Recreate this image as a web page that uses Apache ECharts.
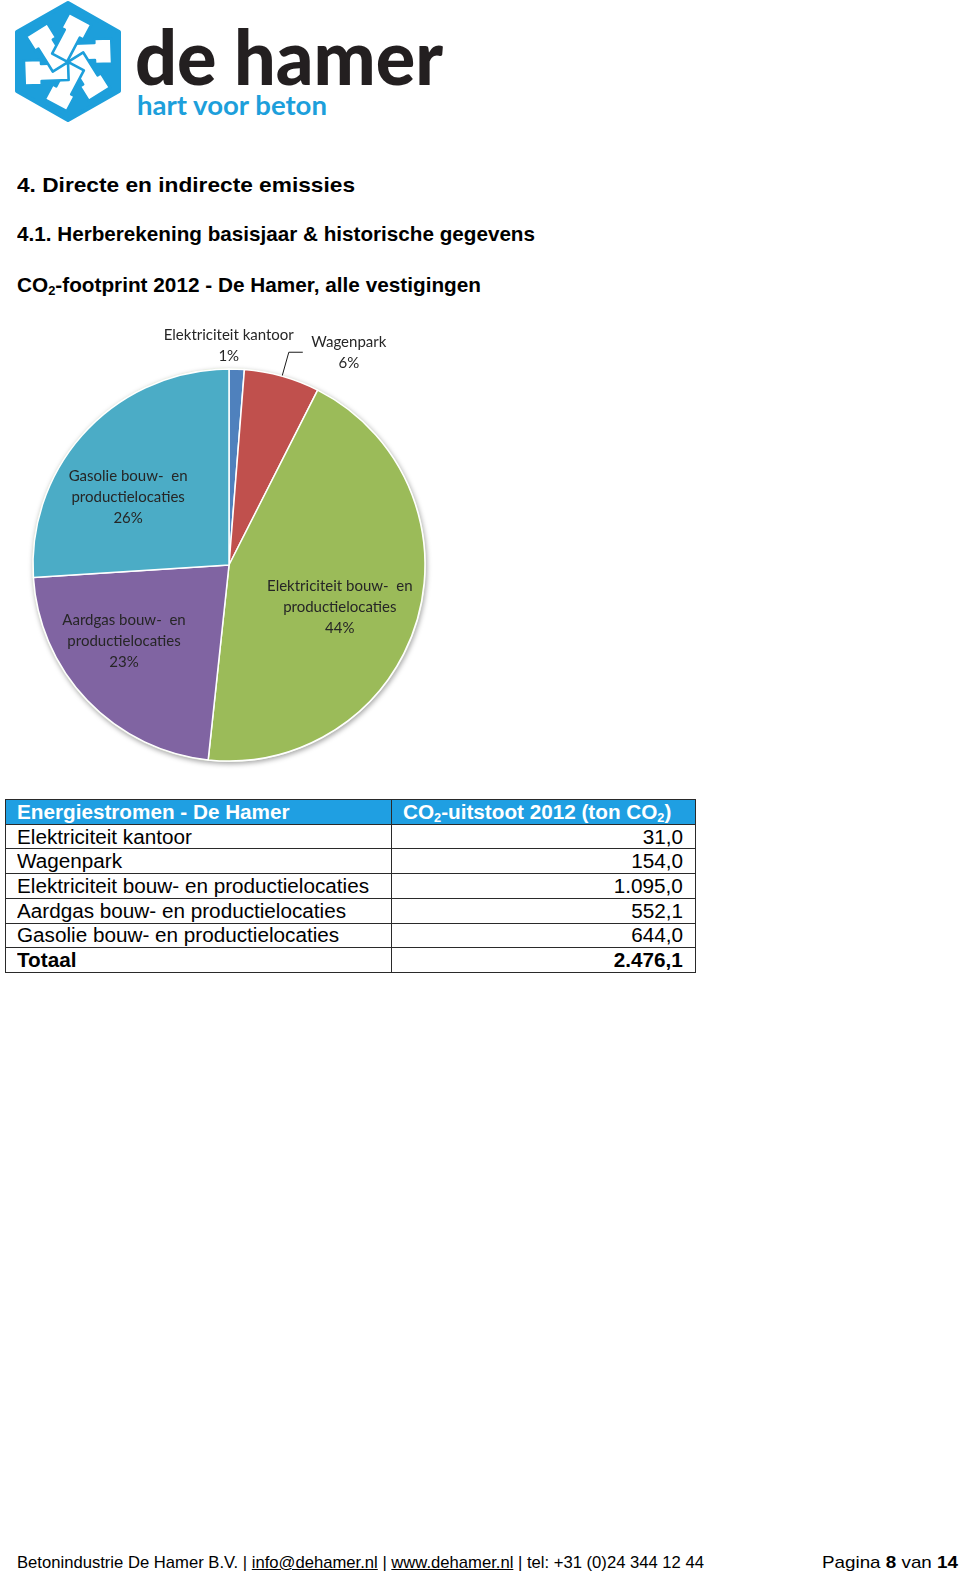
<!DOCTYPE html>
<html><head><meta charset="utf-8">
<script src="https://cdn.jsdelivr.net/npm/echarts@6/dist/echarts.min.js"></script>
<style>
html,body{margin:0;padding:0;background:#fff;}
body{width:960px;height:1573px;position:relative;overflow:hidden;font-family:"Liberation Sans",Arial,sans-serif;color:#000;}
.t{position:absolute;white-space:nowrap;line-height:1;}
.fit{display:inline-block;white-space:nowrap;}
#chart{position:absolute;left:0;top:310px;width:480px;height:470px;}
#tbl{position:absolute;left:5px;top:799px;width:690px;height:174px;border-collapse:collapse;table-layout:fixed;font-size:20px;}
#tbl td{border:1px solid #2a2a2a;padding:0 12px 0 11px;line-height:1;overflow:visible;white-space:nowrap;}
#tbl tr.hd td{background:#1f9fe2;color:#fff;font-weight:bold;}
#tbl td.num{text-align:right;}
#tbl tr.tot td{font-weight:bold;}
sub{font-size:0.62em;vertical-align:-0.25em;line-height:0;}
#foot{font-size:17px;}
#foot a{color:#000;text-decoration:underline;}
</style></head><body>

<svg style="position:absolute;left:0;top:0" width="470" height="130" viewBox="0 0 470 130">
  <polygon points="68,3 119,32 119,91 68,120 17,91 17,32" fill="#1d9fdb" stroke="#1d9fdb" stroke-width="4" stroke-linejoin="round"/>
  <g transform="translate(68,62)" fill="#fff" stroke="#1d9fdb" stroke-width="2.6" stroke-linejoin="round">
    <defs><path id="blade" d="M0,-18 L27,-18 L27,-22 L44,-22 L44,3 L27,3 L27,-1 L0,-1 Z" transform="rotate(-2)"/></defs>
    <use href="#blade"/>
    <use href="#blade" transform="rotate(60)"/>
    <use href="#blade" transform="rotate(120)"/>
    <use href="#blade" transform="rotate(180)"/>
    <use href="#blade" transform="rotate(240)"/>
    <use href="#blade" transform="rotate(300)"/>
  </g>
  <text x="135" y="85" textLength="308" lengthAdjust="spacingAndGlyphs" font-family="Lato, 'Open Sans', sans-serif" font-weight="900" font-size="76" fill="#231f20">de hamer</text>
  <text x="137" y="115" textLength="190" lengthAdjust="spacingAndGlyphs" font-family="Lato, 'Open Sans', sans-serif" font-weight="700" font-size="27" fill="#1d9fdb">hart voor beton</text>
</svg>

<div class="t" style="left:17px;top:174px;font-size:21px;font-weight:bold;"><span class="fit" data-w="338">4. Directe en indirecte emissies</span></div>
<div class="t" style="left:17px;top:223px;font-size:21px;font-weight:bold;"><span class="fit" data-w="518">4.1. Herberekening basisjaar &amp; historische gegevens</span></div>
<div class="t" style="left:17px;top:274px;font-size:21px;font-weight:bold;"><span class="fit" data-w="464">CO<sub>2</sub>-footprint 2012 - De Hamer, alle vestigingen</span></div>

<div id="chart"></div>

<table id="tbl">
  <colgroup><col style="width:386px"><col style="width:304px"></colgroup>
  <tbody id="tbody"></tbody>
</table>

<div id="foot">
  <div class="t" style="left:17px;top:1554px;"><span class="fit" data-w="687">Betonindustrie De Hamer B.V. | <a>info@dehamer.nl</a> | <a>www.dehamer.nl</a> | tel: +31 (0)24 344 12 44</span></div>
  <div class="t" style="left:822px;top:1554px;"><span class="fit" data-w="136">Pagina <b>8</b> van <b>14</b></span></div>
</div>

<script>
// ---- data ----
const categories = [
  'Elektriciteit kantoor',
  'Wagenpark',
  'Elektriciteit bouw- en productielocaties',
  'Aardgas bouw- en productielocaties',
  'Gasolie bouw- en productielocaties'
];
const values = [31.0, 154.0, 1095.0, 552.1, 644.0];
const tableHeader = ['Energiestromen - De Hamer', 'CO<sub>2</sub>-uitstoot 2012 (ton CO<sub>2</sub>)'];
const totalLabel = 'Totaal';
const sliceColors = ['#4F81BD', '#C0504D', '#9BBB59', '#8064A2', '#4BACC6'];

// ---- table ----
function nl(v){
  const parts = v.toFixed(1).split('.');
  parts[0] = parts[0].replace(/\B(?=(\d{3})+(?!\d))/g, '.');
  return parts.join(',');
}
const tb = document.getElementById('tbody');
let html = '<tr class="hd"><td><span class="tf">' + tableHeader[0] + '</span></td><td><span class="tf">' + tableHeader[1] + '</span></td></tr>';
categories.forEach((c, i) => {
  html += '<tr><td><span class="tf' + (i===2?' ref':'') + '">' + c + '</span></td><td class="num"><span class="tf r">' + nl(values[i]) + '</span></td></tr>';
});
const total = values.reduce((a, b) => a + b, 0);
html += '<tr class="tot"><td><span class="tf">' + totalLabel + '</span></td><td class="num"><span class="tf r">' + nl(total) + '</span></td></tr>';
tb.innerHTML = html;

// ---- fit texts ----
document.querySelectorAll('.fit').forEach(el => {
  const w = el.getBoundingClientRect().width;
  const tgt = +el.dataset.w;
  el.style.transformOrigin = 'left center';
  el.style.transform = 'scaleX(' + (tgt / w) + ')';
});
document.querySelectorAll('.tf').forEach(el => { el.style.display = 'inline-block'; });
const ref = document.querySelector('.tf.ref');
const sc = 352 / ref.getBoundingClientRect().width;
document.querySelectorAll('.tf').forEach(el => {
  el.style.transformOrigin = el.classList.contains('r') ? 'right center' : 'left center';
  el.style.transform = 'scaleX(' + sc + ')';
});

// ---- pie ----
const chart = echarts.init(document.getElementById('chart'), null, {renderer: 'canvas'});
const data = categories.map((n, i) => ({name: n, value: values[i]}));
const CENTER = [229, 255];
const R = 196;
const labelFont = {fontFamily: 'Lato, "Open Sans", sans-serif', fontSize: 15, color: '#262626', lineHeight: 21};
const pieText = p => p.name.replace('- en ', '-  en\n') + '\n' + p.percent + '%';
// small nudges of the in-slice labels, as Excel placed them
const labelNudge = [[-9, 3], [0, 0], [-10, 6], [-14, -11], [-9, 18]];
function overlay(radius, showIdx){
  return {
    type: 'pie', center: CENTER, radius: radius, startAngle: 90, clockwise: true,
    silent: true, percentPrecision: 0, avoidLabelOverlap: false, z: 5,
    itemStyle: {color: 'rgba(0,0,0,0)', borderWidth: 0},
    emphasis: {disabled: true},
    labelLine: {show: false},
    label: Object.assign({show: true, position: 'inside', formatter: pieText}, labelFont),
    data: data.map((d, i) => ({name: d.name, value: d.value, label: {show: showIdx.includes(i), offset: labelNudge[i]}}))
  };
}
chart.setOption({
  animation: false,
  series: [
    {
      type: 'pie', center: CENTER, radius: R + 1, silent: true, z: 1,
      label: {show: false}, labelLine: {show: false}, emphasis: {disabled: true},
      itemStyle: {color: '#e8f0dc', shadowBlur: 5, shadowOffsetX: 1, shadowOffsetY: 2, shadowColor: 'rgba(0,0,0,0.35)'},
      data: [{name: 'shadow', value: 1}]
    },
    {
      type: 'pie', center: CENTER, radius: R, startAngle: 90, clockwise: true,
      silent: true, percentPrecision: 0, avoidLabelOverlap: false, z: 3,
      emphasis: {disabled: true},
      itemStyle: {borderColor: '#ffffff', borderWidth: 1.5},
      label: {
        show: true, position: 'outside',
        formatter: p => '{a|' + p.name + '}\n{a|' + p.percent + '%}',
        rich: {a: Object.assign({width: 82, align: 'center'}, labelFont)}
      },
      labelLine: {show: true, length: 25, length2: 14, smooth: false, lineStyle: {color: '#1a1a1a', width: 1}},
      data: data.map((d, i) => ({
        name: d.name, value: d.value,
        itemStyle: {color: sliceColors[i]},
        label: {show: i === 1},
        labelLine: {show: i === 1}
      }))
    },
    overlay(246, [2, 3, 4]),
    overlay(440, [0])
  ]
});
</script>
</body></html>
